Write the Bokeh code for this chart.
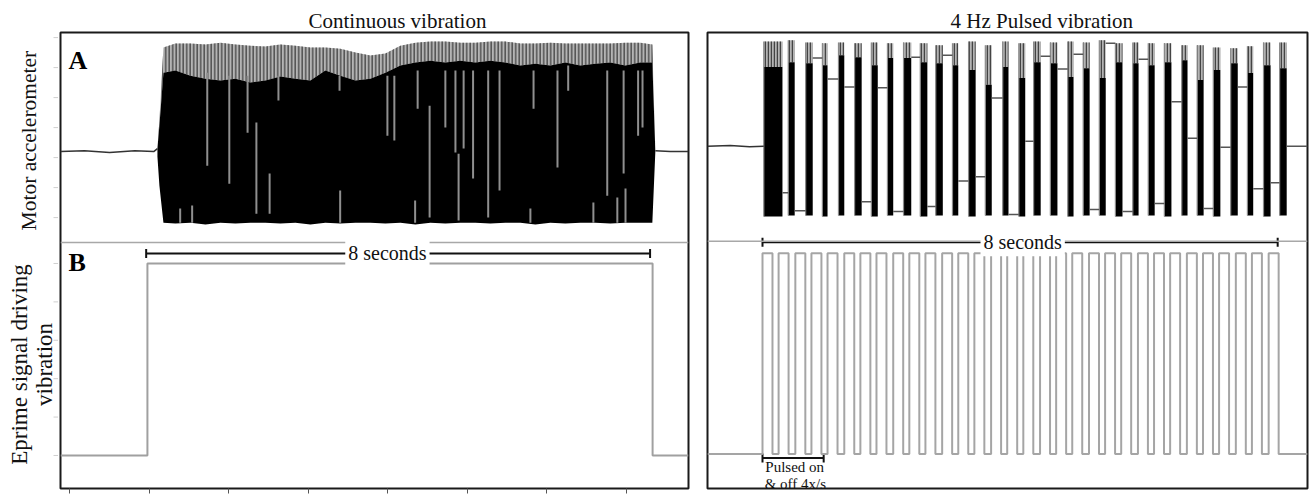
import math
from bokeh.plotting import figure
from bokeh.models import (Range1d, FixedTicker, Label, Title, Whisker, TeeHead,
                          ColumnDataSource, Span)
from bokeh.layouts import row
from bokeh.embed import file_html
from bokeh.resources import INLINE
from bokeh.core.properties import value

SERIF = "Liberation Serif"

# ===================== DATA: continuous vibration (left) =====================
cont_x_range = (-1.38, 8.59)          # seconds (0 = vibration onset)
cont_sig_range = (-0.172, 2.203)      # Eprime signal (0 = off, 1 = on)
cont_acc_range = (-11.23, 3.97)       # accelerometer (arbitrary units)

cont_base_pre_t = [-1.38, -1.0, -0.6, -0.2, 0.10, 0.159]
cont_base_pre_v = [0.0, 0.03, -0.03, 0.03, 0.0, 0.10]
cont_base_post_t = [8.063, 8.30, 8.59]
cont_base_post_v = [0.03, 0.0, 0.0]

env_t = [0.159, 0.190, 0.254, 0.444, 0.683, 0.921, 1.159, 1.397, 1.635, 1.873,
         2.111, 2.349, 2.587, 2.825, 3.063, 3.302, 3.540, 3.778, 4.016, 4.254,
         4.492, 4.730, 4.968, 5.206, 5.444, 5.683, 5.921, 6.159, 6.397, 6.635,
         6.873, 7.111, 7.349, 7.587, 7.825, 8.016, 8.063]
env_gray = [0.13, 1.03, 3.47, 3.60, 3.60, 3.57, 3.63, 3.57, 3.53, 3.50,
            3.57, 3.53, 3.47, 3.47, 3.43, 3.30, 3.20, 3.27, 3.53, 3.63,
            3.67, 3.67, 3.63, 3.63, 3.67, 3.67, 3.60, 3.60, 3.63, 3.60,
            3.60, 3.60, 3.60, 3.63, 3.63, 3.57, 0.03]
env_black = [0.10, 0.87, 2.63, 2.70, 2.53, 2.43, 2.37, 2.43, 2.30, 2.37,
             2.50, 2.43, 2.37, 2.70, 2.53, 2.37, 2.43, 2.63, 2.87, 2.97,
             3.03, 2.97, 3.03, 2.97, 3.03, 2.97, 2.87, 2.93, 2.87, 2.97,
             2.87, 2.93, 2.97, 2.87, 2.97, 2.97, 0.03]
env_low = [-0.17, -1.13, -2.37, -2.40, -2.37, -2.43, -2.37, -2.40, -2.37, -2.37,
           -2.40, -2.37, -2.43, -2.37, -2.40, -2.37, -2.37, -2.40, -2.37, -2.43,
           -2.37, -2.40, -2.37, -2.37, -2.40, -2.37, -2.37, -2.43, -2.37, -2.40,
           -2.37, -2.37, -2.40, -2.37, -2.37, -2.37, -0.03]

dip_t = [0.95, 1.30, 1.59, 1.73, 1.94, 2.08, 3.05, 3.81, 3.92, 4.29, 4.48, 4.73,
         4.89, 4.94, 5.02, 5.17, 5.41, 5.59, 6.13, 6.51, 6.68, 7.08, 7.30, 7.46,
         7.56, 7.59, 7.79, 7.86, 0.52, 0.71, 3.06, 4.25, 6.08]
dip_top = [2.63, 2.53, 2.53, 0.97, -0.73, 2.53, 2.53, 2.53, 2.53, 2.70, 1.53, 2.70,
           2.70, -0.07, 2.70, 2.70, 2.70, 2.70, 2.70, 2.70, 2.87, -1.70, 2.70, -1.53,
           2.70, -1.23, 2.70, 2.70, -1.90, -1.80, -1.30, -1.63, -1.90]
dip_bottom = [-0.47, -1.07, 0.63, -2.07, -2.07, 1.70, 2.03, 0.53, 0.37, 1.43, -2.20, 0.80,
              -0.03, -2.30, 0.10, -0.90, -2.20, -1.30, 1.43, -0.53, 2.03, -2.37, -1.47, -2.37,
              -0.73, -2.37, 0.53, 0.80, -2.37, -2.37, -2.37, -2.37, -2.37]

cont_sig_t = [-1.38, 0.0, 8.02, 8.59]
cont_sig_v = [0, 1, 0, 0]

cont_x_ticks = [-1.24, 0.03, 1.29, 2.55, 3.81, 5.08, 6.34, 7.60]
acc_ticks = [3.8, 2.8, 1.8, 0.8, -0.2, -1.2, -2.2]
sig_ticks = [0.0, 0.2, 0.4, 0.6, 0.8, 1.0]
cont_bar = (-0.02, 7.98)

y_titles = ["Motor accelerometer", "Eprime signal driving", "vibration"]

# ===================== DATA: 4 Hz pulsed vibration (right) =====================
puls_x_range = (-0.854, 8.463)
puls_sig_range = (-0.172, 2.099)
puls_acc_range = (-11.53, 3.833)

puls_base_pre_t = [-0.854, -0.5, -0.2, 0.02]
puls_base_pre_v = [0.0, 0.03, -0.02, 0.0]

burst_t0 = [0.02, 0.40, 0.67, 0.93, 1.18, 1.43, 1.69, 1.94, 2.19, 2.45, 2.69, 2.95,
            3.20, 3.46, 3.73, 3.98, 4.21, 4.47, 4.74, 4.98, 5.23, 5.48, 5.75, 5.99,
            6.24, 6.51, 6.75, 7.00, 7.27, 7.53, 7.78, 8.03]
burst_t1 = [0.31, 0.50, 0.78, 1.01, 1.27, 1.54, 1.79, 2.03, 2.31, 2.56, 2.80, 3.04,
            3.31, 3.56, 3.82, 4.08, 4.32, 4.58, 4.83, 5.08, 5.33, 5.59, 5.84, 6.09,
            6.35, 6.60, 6.85, 7.11, 7.38, 7.62, 7.89, 8.14]
burst_black = [2.67, 2.83, 2.80, 2.73, 3.07, 3.00, 2.73, 2.97, 2.97, 2.83, 2.80, 2.73,
               2.57, 2.07, 2.67, 2.30, 2.83, 2.80, 2.33, 2.63, 2.30, 2.83, 2.80, 2.73,
               2.83, 2.90, 2.23, 2.57, 2.80, 2.47, 2.73, 2.63]
burst_gray = [3.53, 3.57, 3.50, 3.47, 3.50, 3.47, 3.50, 3.47, 3.50, 3.47, 3.40, 3.47,
              3.53, 3.40, 3.53, 3.47, 3.53, 3.50, 3.53, 3.50, 3.57, 3.47, 3.50, 3.47,
              3.47, 3.40, 3.40, 3.33, 3.30, 3.37, 3.50, 3.50]
burst_low = [-2.37, -2.33, -2.33, -2.37, -2.33, -2.33, -2.37, -2.33, -2.33, -2.37, -2.33, -2.33,
             -2.37, -2.33, -2.33, -2.37, -2.33, -2.33, -2.37, -2.33, -2.33, -2.37, -2.33, -2.33,
             -2.37, -2.33, -2.33, -2.37, -2.33, -2.33, -2.37, -2.33]
hold_level = [-1.57, -2.17, 2.97, 2.27, 2.00, -1.87, 1.97, -2.20, 3.00, -2.03, 3.07, -1.17,
              -1.03, 1.63, -2.30, 0.17, 3.03, 2.60, 3.10, -2.13, 3.47, -2.20, 2.93, -1.93,
              1.50, 0.27, -2.10, -0.03, 2.00, -1.43, -1.23, 0.00]

pulse_onsets = [0.00, 0.25, 0.51, 0.76, 1.01, 1.27, 1.52, 1.77, 2.03, 2.28, 2.53, 2.79,
                3.04, 3.29, 3.55, 3.80, 4.05, 4.31, 4.56, 4.81, 5.07, 5.32, 5.57, 5.83,
                6.08, 6.33, 6.59, 6.84, 7.09, 7.35, 7.60, 7.86]
pulse_on_dur = 0.155
puls_bar = (0.0, 8.0)
puls_small_bar = (0.0, 0.95)


def to_sig(acc_v, acc_rng, sig_rng):
    f = (acc_v - acc_rng[0]) / (acc_rng[1] - acc_rng[0])
    return sig_rng[0] + f * (sig_rng[1] - sig_rng[0])


def base_fig(width, xr, sr, ar, mbl, mbr, mbb):
    p = figure(width=width, height=494, x_range=Range1d(*xr), y_range=Range1d(*sr),
               output_backend="svg", toolbar_location=None,
               min_border_left=mbl, min_border_right=mbr, min_border_top=32,
               min_border_bottom=mbb, background_fill_color="white",
               border_fill_color="white")
    p.extra_y_ranges = {"acc": Range1d(*ar)}
    p.grid.visible = False
    p.outline_line_color = "#1a1a1a"
    p.outline_line_width = 2
    return p


def bracket(p, y, t0, t1):
    src = ColumnDataSource(dict(base=[y], lower=[t0], upper=[t1]))
    w = Whisker(source=src, base="base", lower="lower", upper="upper",
                dimension="width", line_color="#111111", line_width=2,
                lower_head=TeeHead(size=9, line_color="#111111", line_width=2),
                upper_head=TeeHead(size=9, line_color="#111111", line_width=2))
    p.add_layout(w)


def tick_only(axis, ticks, color, length):
    axis.ticker = FixedTicker(ticks=ticks)
    axis.major_label_overrides = {t: "" for t in ticks}
    axis.major_label_text_font_size = "0px"
    axis.major_label_standoff = 0
    axis.axis_line_color = None
    axis.major_tick_in = 0
    axis.major_tick_out = length
    axis.major_tick_line_color = color
    axis.minor_tick_line_color = None


# ------------------------------ left figure ------------------------------
LAB_W = 58
p1 = base_fig(700 - LAB_W, cont_x_range, cont_sig_range, cont_acc_range, 2, 12, 6)
p1.yaxis.visible = False
p1.add_layout(Title(text="Continuous vibration", align="left", offset=248,
                    text_font=SERIF, text_font_size="21px", text_font_style="normal",
                    text_color="#111111", standoff=0), "above")

tick_only(p1.xaxis[0], cont_x_ticks, "#555555", 5)
all_ticks = sig_ticks + [to_sig(a, cont_acc_range, cont_sig_range) for a in acc_ticks]

p1.add_layout(Span(location=to_sig(-3.03, cont_acc_range, cont_sig_range), dimension="width",
                   line_color="#a8a8a8", line_width=1.5))

p1.varea(x=env_t, y1=env_black, y2=env_gray, fill_color="#b4b4b4",
         hatch_pattern="vertical_line", hatch_color="#555555", hatch_scale=3.5,
         hatch_weight=1.6, y_range_name="acc")
p1.varea(x=env_t, y1=env_low, y2=env_black, fill_color="#000000", y_range_name="acc")
p1.segment(x0=dip_t, y0=dip_top, x1=dip_t, y1=dip_bottom, line_color="#8f8f8f",
           line_width=2, y_range_name="acc")
p1.line(cont_base_pre_t, cont_base_pre_v, line_color="#333333", line_width=1.5, y_range_name="acc")
p1.line(cont_base_post_t, cont_base_post_v, line_color="#333333", line_width=1.5, y_range_name="acc")

p1.step(cont_sig_t, cont_sig_v, mode="after", line_color="#a0a0a0", line_width=2)

bracket(p1, 1.052, *cont_bar)
p1.add_layout(Label(x=3.81, y=1.052, text="8 seconds", text_font=SERIF, text_font_size="20px",
                    text_align="center", text_baseline="middle", text_color="#111111",
                    background_fill_color="white", padding=3))

p1.add_layout(Label(x=-1.254, y=1.984, text="A", text_font=SERIF, text_font_style="bold",
                    text_font_size="26px", text_color="#000000"))
p1.add_layout(Label(x=-1.254, y=0.927, text="B", text_font=SERIF, text_font_style="bold",
                    text_font_size="26px", text_color="#000000"))

# narrow panel holding the vertical axis titles and the y ticks (shares the signal y-range)
lab = figure(width=LAB_W, height=494, x_range=Range1d(0, LAB_W), y_range=p1.y_range,
             output_backend="svg", toolbar_location=None, x_axis_location=None,
             y_axis_location=None, min_border_left=0, min_border_right=0,
             min_border_top=32, min_border_bottom=6, outline_line_color=None,
             background_fill_color="white", border_fill_color="white")
lab.grid.visible = False
lab.segment(x0=[LAB_W - 5] * len(all_ticks), y0=all_ticks, x1=[LAB_W] * len(all_ticks),
            y1=all_ticks, line_color="#cfcfcf", line_width=1)
lab.text(x=[28], y=[1.64], text=y_titles[:1], angle=math.pi / 2,
         text_font=value(SERIF), text_font_size="21.5px", text_align="center",
         text_baseline="middle", text_color="#111111")
lab.text(x=[19, 44], y=[0.474, 0.474], text=y_titles[1:], angle=math.pi / 2,
         text_font=value(SERIF), text_font_size="23px", text_align="center",
         text_baseline="middle", text_color="#111111")

# ------------------------------ right figure ------------------------------
p2 = base_fig(609, puls_x_range, puls_sig_range, puls_acc_range, 7, 2, 1)
p2.xaxis.visible = False
p2.yaxis.visible = False
p2.add_layout(Title(text="4 Hz Pulsed vibration", align="left", offset=243,
                    text_font=SERIF, text_font_size="21px", text_font_style="normal",
                    text_color="#111111", standoff=0), "above")

p2.add_layout(Span(location=to_sig(-3.2, puls_acc_range, puls_sig_range), dimension="width",
                   line_color="#a8a8a8", line_width=1.5))

p2.quad(left=burst_t0, right=burst_t1, bottom=burst_black, top=burst_gray,
        fill_color="#b4b4b4", line_color=None, hatch_pattern="vertical_line",
        hatch_color="#444444", hatch_scale=3, hatch_weight=1.5, y_range_name="acc")
p2.quad(left=burst_t0, right=burst_t1, bottom=burst_low, top=burst_black,
        fill_color="#000000", line_color=None, y_range_name="acc")
p2.segment(x0=burst_t0, y0=burst_low, x1=burst_t0, y1=burst_gray, line_color="#8a8a8a",
           line_width=1.2, y_range_name="acc")
hold_x0 = burst_t1
hold_x1 = burst_t0[1:] + [puls_x_range[1]]
p2.segment(x0=hold_x0, y0=hold_level, x1=hold_x1, y1=hold_level, line_color="#555555",
           line_width=1.5, y_range_name="acc")
p2.line(puls_base_pre_t, puls_base_pre_v, line_color="#333333", line_width=1.5, y_range_name="acc")

pt = [puls_x_range[0]]
pv = [0]
for o in pulse_onsets:
    pt += [o, o + pulse_on_dur]
    pv += [1, 0]
pt.append(puls_x_range[1])
pv.append(0)
p2.step(pt, pv, mode="after", line_color="#a5a5a5", line_width=2)

bracket(p2, 1.054, *puls_bar)
p2.add_layout(Label(x=4.04, y=1.054, text="8 seconds", text_font=SERIF, text_font_size="20px",
                    text_align="center", text_baseline="middle", text_color="#111111",
                    background_fill_color="white", padding=3))
bracket(p2, -0.02, *puls_small_bar)
p2.add_layout(Label(x=0.50, y=-0.064, text="Pulsed on", text_font=SERIF, text_font_size="15px",
                    text_align="center", text_baseline="middle", text_color="#111111"))
p2.add_layout(Label(x=0.51, y=-0.149, text="& off 4x/s", text_font=SERIF, text_font_size="15px",
                    text_align="center", text_baseline="middle", text_color="#111111"))

layout = row(lab, p1, p2)
open("out.html", "w").write(file_html(layout, INLINE))
